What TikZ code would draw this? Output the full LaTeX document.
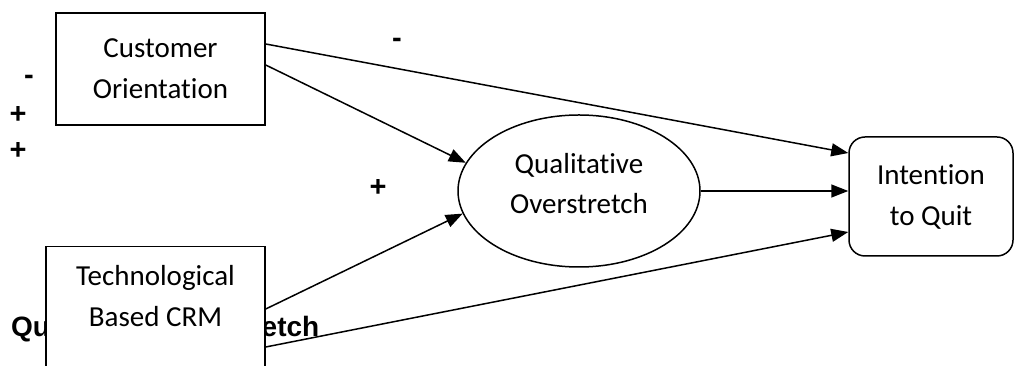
\documentclass[tikz,border=0pt]{standalone}
\usepackage{fontspec}
\usepackage{tikz}
\setmainfont{Liberation Sans}
\newfontfamily\carlito{Carlito}[Ligatures={NoCommon}]
\usetikzlibrary{shapes.geometric, arrows.meta, positioning, calc}

\begin{document}
\begin{tikzpicture}[
    x=1pt, y=1pt,
    box/.style={rectangle, draw, line width=1.5pt, fill=white, align=center, font={\carlito\fontsize{29}{41}\selectfont}},
    oval/.style={ellipse, draw, line width=1.5pt, align=center, minimum width=242pt, minimum height=152pt, inner sep=0pt, font={\carlito\fontsize{29}{40}\selectfont}},
    arrow/.style={-{Triangle[length=17pt, width=13pt]}, line width=1.5pt},
    signlabel/.style={font={\bfseries\fontsize{29}{30}\selectfont}, inner sep=0pt}
]
    \fill[white] (0,0) rectangle (1015,366);
    \useasboundingbox (0,0) rectangle (1015,366);

    % Hidden heading behind the CRM box
    \node[signlabel, font={\bfseries\fontsize{28}{30}\selectfont}, anchor=base west] (head) at (11,29) {Qualitative Overstretch};

    % Antecedents
    \node[box, minimum width=209pt, minimum height=112pt] (cust) at (160.5,297) {Customer\\Orientation};
    \node[box, anchor=north, minimum width=219pt, inner ysep=19pt] (tech) at (155.5,120) {Technological\\Based CRM\\~\\~};

    % Mediator and outcome
    \node[oval] (ov) at (579,175) {Qualitative\\Overstretch\\[-24pt]\mbox{}};
    \node[box, rounded corners=16pt, minimum width=164pt, minimum height=119pt] (iq) at (931,169.5) {Intention\\to Quit};

    % Paths
    \draw[arrow] ([yshift=25pt]cust.east) -- ([yshift=43.5pt]iq.west);
    \draw[arrow] ([yshift=4pt]cust.east) -- (ov.166);
    \draw[arrow] ([yshift=-63pt]tech.north east) -- (ov.191);
    \draw[arrow] ([yshift=-101pt]tech.north east) -- ([yshift=-35.5pt]iq.west);
    \draw[arrow] (ov.east) -- (ov.east -| iq.west);

    % Signs
    \node[signlabel] (s1) at (397,323) {-};
    \node[signlabel] (s2) at (29,286) {-};
    \node[signlabel] (s3) at (18,251) {+};
    \node[signlabel] (s4) at (18,215) {+};
    \node[signlabel] (s5) at (378,178) {+};

\end{tikzpicture}
\end{document}
